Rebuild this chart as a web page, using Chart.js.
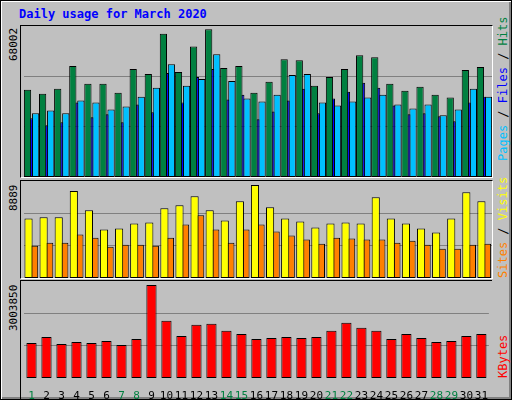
<!DOCTYPE html>
<html>
<head>
<meta charset="utf-8">
<script src="https://cdn.jsdelivr.net/npm/chart.js@4/dist/chart.umd.min.js"></script>
<style>
  body { margin: 0; background: #fff; }
  #wrap { position: relative; width: 510px; height: 398px; background: #C0C0C0;
          border: 1px solid #000; box-shadow: inset 1px 1px 0 #fff, inset -2px -2px 0 #808080; overflow: hidden; }
  .panel { position: absolute; left: 19px; width: 471px; border: 1px solid; border-color: #000 #fff #fff #000; }
  .panel canvas { display: block; }
  .txt { position: absolute; font: 11px "DejaVu Sans Mono", monospace; white-space: nowrap;
         transform-origin: 0 0; transform: rotate(-90deg); }
  #title { position: absolute; left: 18px; top: 6px; color: #0000FF; font: bold 12px "DejaVu Sans Mono", monospace; }
</style>
</head>
<body>
<div id="wrap">
  <div id="title">Daily usage for March 2020</div>
  <div class="panel" style="top:24px;height:151px"><canvas id="c1" width="471" height="151"></canvas></div>
  <div class="panel" style="top:179px;height:97px"><canvas id="c2" width="471" height="97"></canvas></div>
  <div class="panel" style="top:279px;height:121px;border-bottom:none;border-right:none"><canvas id="c3" width="471" height="119"></canvas></div>

  <div class="txt" style="left:6px;top:60px;color:#000">68002</div>
  <div class="txt" style="left:6px;top:210px;color:#000">8889</div>
  <div class="txt" style="left:6px;top:330px;color:#000">3003850</div>

  <div class="txt" style="left:495px;top:160px;font-size:12px"><span style="color:#00C0FF">Pages</span> / <span style="color:#0000FF">Files</span> / <span style="color:#008040">Hits</span></div>
  <div class="txt" style="left:495px;top:277px;font-size:12px"><span style="color:#FF8000">Sites</span> / <span style="color:#FFFF00">Visits</span></div>
  <div class="txt" style="left:495px;top:377px;font-size:12px;color:#FF0000">KBytes</div>
</div>
<script>
const days = ["1","2","3","4","5","6","7","8","9","10","11","12","13","14","15","16","17","18","19","20","21","22","23","24","25","26","27","28","29","30","31"];
const weekend = ["1","7","8","14","15","21","22","28","29"];

const hits = [40200,38380,40650,51070,42910,42910,38830,49710,47450,66030,48350,60140,68002,50170,51070,38830,43820,54250,53790,42010,46090,49710,56060,55150,42910,39740,41550,37930,36570,49260,50620];
const files = [27050,23870,25230,34300,27500,28860,25230,33390,29770,47900,34300,46090,49710,35660,37930,26590,30220,35210,40650,29310,36110,39290,43370,41100,32940,28860,29310,27950,25690,34300,37020];
const pages = [29310,30670,29310,35210,34300,31130,32490,37020,41100,51980,42010,45180,56510,44270,36110,34750,37930,46990,47450,34300,32940,34750,36570,37930,33390,31580,33390,28410,31130,40650,37020];

const visits = [5700,5800,5800,8310,6470,4640,4730,5220,5310,6670,6960,7820,6470,5510,7340,8889,6760,5700,5410,4830,5220,5310,5220,7730,5700,5220,4730,4350,5700,8210,7340];
const sites = [3090,3380,3380,4150,3860,2990,3190,3190,3090,3860,5120,5990,4640,3380,4640,5120,4440,4060,3670,3280,3860,3770,3670,3670,3380,3570,3190,2800,2800,3190,3280];

const kbytes = [1129000,1326500,1096300,1162100,1129000,1195000,1063400,1260700,3003850,1852700,1359400,1721200,1754100,1523900,1425200,1260700,1293600,1326500,1293600,1326500,1523900,1787000,1622500,1523900,1260700,1425200,1293600,1162100,1195000,1359400,1425200];

const axisMax = { top: 69550, mid: 9276, bot: 3135400 };

function bar(data, color, pct) {
  return { data, backgroundColor: color, borderColor: "#000", borderWidth: 1, barPercentage: pct, borderSkipped: false };
}

function yAxis(max) {
  return {
    min: 0, max, afterBuildTicks: s => { s.ticks = [{ value: max / 3 }, { value: 2 * max / 3 }]; },
    ticks: { display: false }, border: { display: false },
    grid: { color: "#808080", drawTicks: false }
  };
}

function makeChart(id, datasets, max, catPct, showX) {
  const x = {
    display: showX,
    grid: { display: false }, border: { display: false },
    ticks: {
      display: showX, maxRotation: 0, autoSkip: false, padding: 4,
      font: { family: "DejaVu Sans Mono", size: 11 },
      color: c => weekend.includes(days[c.index]) ? "#008040" : "#000"
    }
  };
  if (showX) x.afterFit = s => { s.height = 22; };
  return new Chart(document.getElementById(id), {
    type: "bar",
    data: { labels: days, datasets },
    options: {
      responsive: false, animation: false,
      layout: { padding: { left: 3, right: 0, top: 0, bottom: 0 } },
      plugins: { legend: { display: false }, tooltip: { enabled: false } },
      categoryPercentage: catPct,
      scales: { x, y: yAxis(max) }
    }
  });
}

makeChart("c1", [bar(hits, "#008040", 1.8), bar(files, "#0000FF", 0.75), bar(pages, "#00C0FF", 1.8)], axisMax.top, 0.8, false);
makeChart("c2", [bar(visits, "#FFFF00", 1.35), bar(sites, "#FF8000", 1.2)], axisMax.mid, 0.8, false);
makeChart("c3", [bar(kbytes, "#FF0000", 0.68)], axisMax.bot, 1.0, true);
</script>
</body>
</html>
